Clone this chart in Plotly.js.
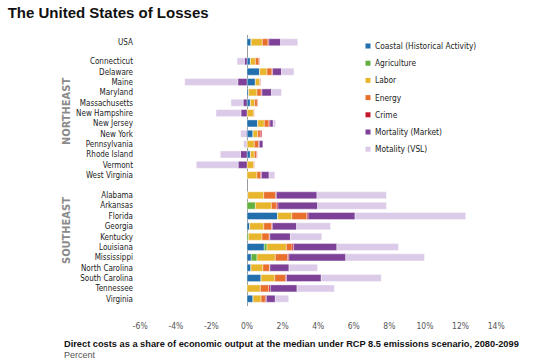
<!DOCTYPE html>
<html>
<head>
<meta charset="utf-8">
<script src="https://cdn.plot.ly/plotly-3.0.1.min.js"></script>
<style>html,body{margin:0;padding:0;background:#fff;}#chart{width:550px;height:363px;}</style>
</head>
<body>
<div id="chart"></div>
<script>
// ---- data ----
const usa = ["USA"];
const northeast = ["Connecticut","Delaware","Maine","Maryland","Massachusetts","New Hampshire","New Jersey","New York","Pennsylvania","Rhode Island","Vermont","West Virginia"];
const southeast = ["Alabama","Arkansas","Florida","Georgia","Kentucky","Louisiana","Mississippi","North Carolina","South Carolina","Tennessee","Virginia"];
const seriesNames = ["Coastal (Historical Activity)","Agriculture","Labor","Energy","Crime","Mortality (Market)","Motality (VSL)"];
// values in % of economic output, order: USA, northeast..., southeast...
const coastal     = [0.22, 0.19,0.71,0.47,0.09,0.19,0,0.60,0.34,0,0.19,0,0,   0.04,0,1.72,0.15,0,0.97,0.24,0.22,0.79,0,0.34];
const agriculture = [0.02, 0,0,0,0,0,0,0,0,0,0,0,0,                          0,0.47,0,0,0.09,0.15,0.32,0,0,0,0];
const labor       = [0.62, 0.28,0.41,0.24,0.47,0.24,0.37,0.37,0.26,0.41,0.22,0.37,0.56, 0.90,0.90,0.80,0.79,0.75,1.09,1.03,0.67,0.77,0.75,0.45];
const energy      = [0.32, 0.20,0.28,0.06,0.24,0.15,0.05,0.26,0.15,0.24,0.13,0.05,0.20, 0.66,0.28,0.84,0.45,0.41,0.32,0.69,0.37,0.60,0.47,0.24];
const crime       = [0.05, 0.03,0.04,0.01,0.04,0.03,0.01,0.06,0.08,0.04,0.03,0.01,0.05, 0.05,0.09,0.07,0.03,0.03,0.09,0.07,0.03,0.06,0.09,0.06];
const mortMarket  = [0.66, -0.15,0.50,-0.52,0.54,-0.22,-0.34,0.18,-0.05,0.20,-0.37,-0.50,0.43, 2.28,2.23,2.64,1.37,1.16,2.43,3.20,1.07,1.95,1.50,0.50];
const mortVSL     = [0.96, -0.41,0.70,-2.98,0.56,-0.68,-1.40,0.13,-0.31,-0.19,-1.13,-2.35,0.32, 3.90,3.86,6.22,1.90,1.76,3.46,4.42,1.60,3.37,2.10,0.75];
const xTickVals   = [-6,-4,-2,0,2,4,6,8,10,12,14];
const xTickText   = ["-6%","-4%","-2%","0%","2%","4%","6%","8%","10%","12%","14%"];

// ---- layout helpers ----
const W = 550, H = 363, M = {l:134, r:36, t:35, b:57};
const PW = W - M.l - M.r, PH = H - M.t - M.b;
const px2x = px => (px - M.l) / PW;          // pixel -> paper x
const py2y = py => (H - M.b - py) / PH;      // pixel -> paper y

const colors = ["#2170ad","#62b13f","#e8b62d","#e8702c","#c4162c","#7d4198","#dccbe8"];
const series = [coastal, agriculture, labor, energy, crime, mortMarket, mortVSL];
const groupGap1 = 1.85, groupGap2 = 1.95;
const states = usa.concat(northeast, southeast);
const ypos = [];
let p = 0;
ypos.push(p);
p += groupGap1;
northeast.forEach((s,i)=>{ ypos.push(p); if(i<northeast.length-1) p += 1; });
p += groupGap2;
southeast.forEach((s,i)=>{ ypos.push(p); if(i<southeast.length-1) p += 1; });
const yMax = p;

const narrow = "DejaVu Sans Condensed, Liberation Sans Narrow, Arial Narrow, sans-serif";
const traces = [];
series.forEach((vals,k)=>{
  traces.push({
    type:"bar", orientation:"h", x: vals, y: ypos, name: seriesNames[k],
    marker:{color: colors[k], line:{color:"#ffffff", width:0.4}},
    width: 0.68, showlegend:false, textposition:"none", customdata: states,
    hovertemplate:"%{customdata}: %{x}%<extra>"+seriesNames[k]+"</extra>"
  });
});

// manual legend (small squares + labels)
const legX = 368, legY0 = 46, legStep = 17.2, sq = 5;
const shapes = [];
const annotations = [];
seriesNames.forEach((n,k)=>{
  const cy = legY0 + k*legStep;
  shapes.push({type:"rect", xref:"paper", yref:"paper",
    x0:px2x(legX - sq/2), x1:px2x(legX + sq/2), y0:py2y(cy + sq/2), y1:py2y(cy - sq/2),
    fillcolor:colors[k], line:{width:0}});
  annotations.push({text:n, xref:"paper", yref:"paper", x:px2x(legX + 5), y:py2y(cy),
    xanchor:"left", yanchor:"middle", showarrow:false,
    font:{family:narrow, size:8.3, color:"#222"}});
});

annotations.push(
  {text:"<b>NORTHEAST</b>", xref:"paper", yref:"paper", x:px2x(66), y:py2y(112), xanchor:"center", yanchor:"middle",
   textangle:-90, showarrow:false, font:{family:narrow, size:11, color:"#8a8a8a"}},
  {text:"<b>SOUTHEAST</b>", xref:"paper", yref:"paper", x:px2x(66), y:py2y(231), xanchor:"center", yanchor:"middle",
   textangle:-90, showarrow:false, font:{family:narrow, size:11, color:"#8a8a8a"}},
  {text:"<b>Direct costs as a share of economic output at the median under RCP 8.5 emissions scenario, 2080-2099</b>",
   xref:"paper", yref:"paper", x:px2x(62), y:py2y(344), xanchor:"left", yanchor:"middle", showarrow:false,
   font:{family:"Liberation Sans, Arial, sans-serif", size:9.25, color:"#111"}},
  {text:"Percent", xref:"paper", yref:"paper", x:px2x(62), y:py2y(355), xanchor:"left", yanchor:"middle", showarrow:false,
   font:{family:"Liberation Sans, Arial, sans-serif", size:9, color:"#555"}}
);

const layout = {
  width:W, height:H,
  margin:M,
  paper_bgcolor:"#fff", plot_bgcolor:"#fff",
  barmode:"relative",
  bargap:0,
  showlegend:false,
  font:{family:narrow, size:9, color:"#222"},
  title:{text:"<b>The United States of Losses</b>", x:0.014, xanchor:"left", y:0.965, yanchor:"middle",
         font:{family:"Liberation Sans, Arial, sans-serif", size:15, color:"#111"}},
  xaxis:{range:[-6.35,15.0], tickvals:xTickVals, ticktext:xTickText, showgrid:false,
         zeroline:true, zerolinecolor:"#9a9a9a", zerolinewidth:1, showline:false, ticks:"",
         ticklabelstandoff:13, tickfont:{family:narrow, size:8.5, color:"#555"}, fixedrange:true},
  yaxis:{range:[yMax+0.7,-0.7], tickvals:ypos, ticktext:states, showgrid:false, zeroline:false,
         showline:false, ticks:"", tickfont:{family:narrow, size:8, color:"#222"}, fixedrange:true},
  shapes:shapes,
  annotations:annotations
};
Plotly.newPlot("chart", traces, layout, {displayModeBar:false, staticPlot:true});
</script>
</body>
</html>
